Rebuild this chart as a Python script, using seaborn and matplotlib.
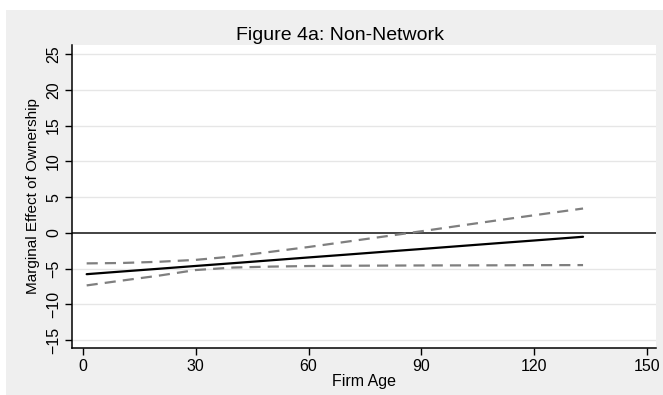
import numpy as np
import pandas as pd
import seaborn as sns
import matplotlib.pyplot as plt
from matplotlib.patches import Rectangle

# values
firm_age = [1, 10, 20, 30, 40, 50, 60, 70, 80, 90, 100, 110, 120, 133]
marginal_effect = [-5.78, -5.42, -5.03, -4.63, -4.24, -3.84, -3.44, -3.05, -2.65, -2.26, -1.86, -1.46, -1.07, -0.55]
upper_bound = [-4.27, -4.22, -4.05, -3.78, -3.30, -2.65, -1.98, -1.25, -0.52, 0.22, 0.98, 1.73, 2.46, 3.40]
lower_bound = [-7.35, -6.70, -6.00, -5.20, -4.85, -4.72, -4.64, -4.60, -4.58, -4.56, -4.55, -4.54, -4.52, -4.51]

x_ticks = [0, 30, 60, 90, 120, 150]
y_ticks = [-15, -10, -5, 0, 5, 10, 15, 20, 25]

df = pd.DataFrame({'Firm Age': firm_age, 'Effect': marginal_effect,
                   'Upper': upper_bound, 'Lower': lower_bound})

sns.set_style('white')
plt.rcParams['font.family'] = ['Liberation Sans', 'DejaVu Sans']
plt.rcParams['text.color'] = 'black'
plt.rcParams['axes.labelcolor'] = 'black'
plt.rcParams['xtick.color'] = 'black'
plt.rcParams['ytick.color'] = 'black'

W, H = 663, 395
fig = plt.figure(figsize=(W / 100, H / 100), dpi=100, facecolor='white')
# grey graph region (white strip on left and top, as in the original)
fig.patches.append(Rectangle((6 / W, 0), 1, 1 - 10 / H, transform=fig.transFigure,
                             facecolor='#efefef', edgecolor='none', zorder=-10))

ax = fig.add_axes([72 / W, (H - 348) / H, (656 - 72) / W, (348 - 45) / H])
ax.set_zorder(1)
ax.set_facecolor('white')

# grid + zero line
for yv in y_ticks:
    if yv != 0:
        ax.axhline(yv, color='#e6e6e6', lw=1.0, zorder=1)
ax.axhline(0, color='#222222', lw=1.2, zorder=2)

sns.lineplot(data=df, x='Firm Age', y='Upper', ax=ax, color='#7f7f7f', lw=1.6,
             linestyle=(0, (5, 3.2)), zorder=3)
sns.lineplot(data=df, x='Firm Age', y='Lower', ax=ax, color='#7f7f7f', lw=1.6,
             linestyle=(0, (5, 3.2)), zorder=3)
sns.lineplot(data=df, x='Firm Age', y='Effect', ax=ax, color='black', lw=1.6, zorder=4)

ax.set_xlim(-2.9, 152.4)
ax.set_ylim(-16.1, 26.26)
ax.set_xticks(x_ticks)
ax.set_yticks(y_ticks)
ax.set_yticklabels([str(v).replace('-', '\u2212') for v in y_ticks], rotation=90, va='center')
ax.tick_params(axis='both', direction='out', length=5, width=1, color='black',
               labelsize=11.5, labelcolor='black', pad=3, bottom=True, left=True)

for s in ['top', 'right']:
    ax.spines[s].set_visible(False)
for s in ['left', 'bottom']:
    ax.spines[s].set_color('black')
    ax.spines[s].set_linewidth(1.1)

ax.set_xlabel('Firm Age', fontsize=11.5, labelpad=0, color='black')
ax.set_ylabel('Marginal Effect of Ownership', fontsize=11, labelpad=4, color='black')
fig.text(340 / W, 1 - 35 / H, 'Figure 4a: Non-Network', ha='center', va='center',
         fontsize=14, color='black')

fig.savefig('out.png', dpi=100, facecolor='white')
